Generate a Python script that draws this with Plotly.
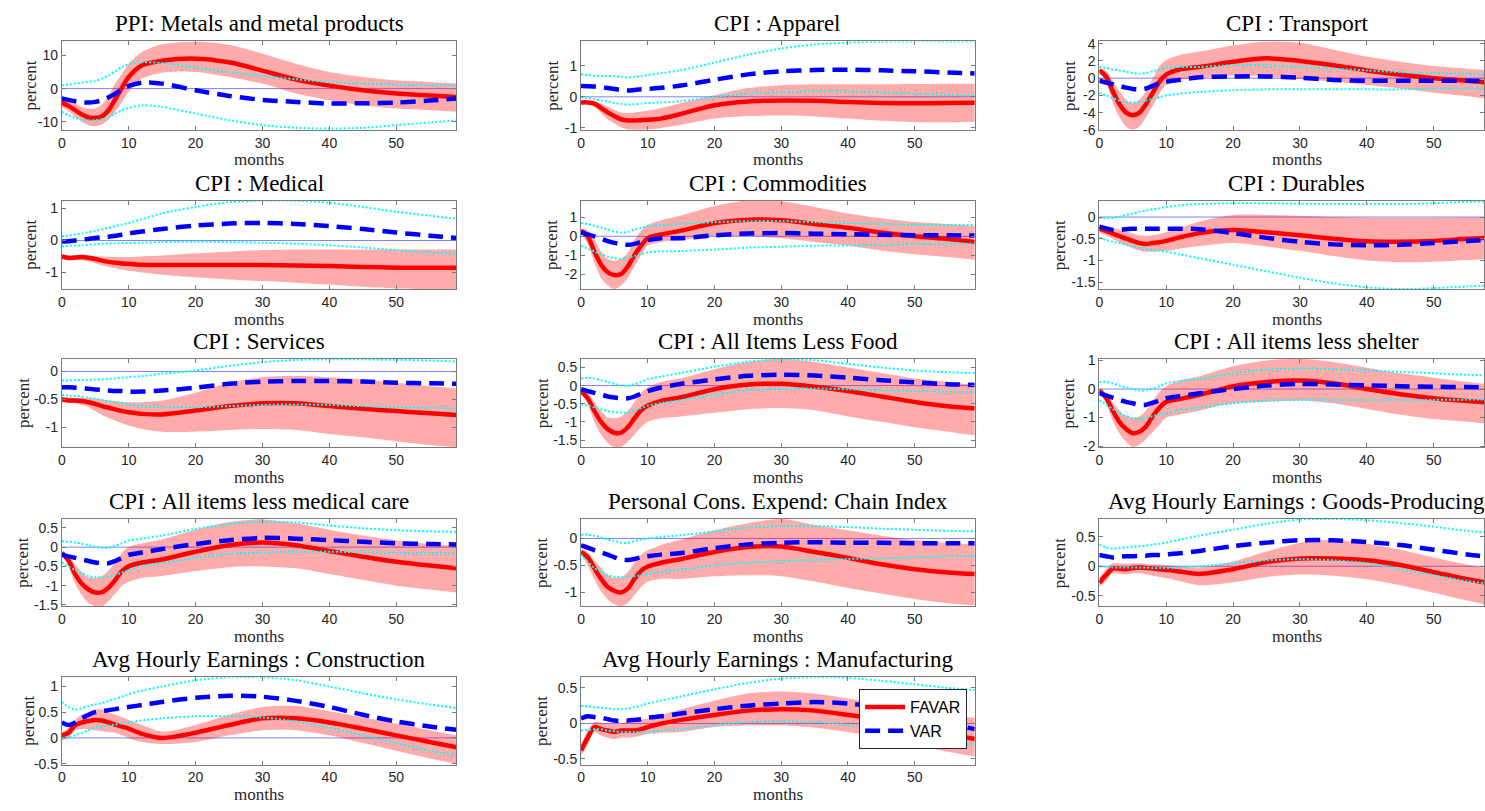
import plotly.graph_objects as go

MONTHS = [0, 1, 2, 3, 4, 5, 6, 7, 8, 9, 10, 12, 15, 20, 25, 30, 35, 40, 45, 50, 55, 59]

TITLES = [
    "PPI: Metals and metal products", "CPI : Apparel", "CPI : Transport",
    "CPI : Medical", "CPI : Commodities", "CPI : Durables",
    "CPI : Services", "CPI : All Items Less Food", "CPI : All items less shelter",
    "CPI : All items less medical care", "Personal Cons. Expend: Chain Index",
    "Avg Hourly Earnings : Goods-Producing",
    "Avg Hourly Earnings : Construction", "Avg Hourly Earnings : Manufacturing",
]

# ---- 1 PPI metals
PPI_FAVAR = [-4.2, -5.2, -6.5, -7.8, -8.7, -8.8, -8.3, -6.5, -3.2, 0.3, 3.5, 7.0, 8.4, 9.0, 7.9, 5.4, 2.7, 0.9, -0.5, -1.5, -2.1, -2.5]
PPI_HI = [-3.0, -3.5, -4.5, -5.5, -6.0, -6.0, -4.8, -2.0, 1.5, 4.5, 7.5, 11.0, 13.3, 14.2, 13.2, 10.5, 7.5, 5.0, 3.5, 2.5, 2.0, 1.5]
PPI_LO = [-5.5, -6.8, -8.5, -10.0, -11.0, -11.3, -10.8, -9.3, -7.0, -4.0, -1.0, 3.0, 4.8, 5.0, 3.5, 1.5, -1.5, -3.5, -5.0, -6.0, -6.5, -7.0]
PPI_VAR = [-3.0, -3.4, -3.8, -4.1, -4.2, -4.0, -3.5, -2.6, -1.5, -0.2, 0.8, 1.8, 1.5, -0.5, -2.2, -3.4, -4.0, -4.5, -4.4, -4.2, -3.6, -3.0]
PPI_VHI = [1.0, 1.2, 1.5, 1.8, 2.0, 2.3, 3.0, 4.0, 5.2, 6.5, 7.3, 7.9, 7.7, 6.3, 5.0, 3.8, 2.8, 2.0, 1.5, 1.2, 1.0, 1.0]
PPI_VLO = [-7.0, -8.0, -8.8, -9.3, -9.5, -9.5, -9.2, -8.5, -7.5, -6.5, -5.8, -5.0, -5.5, -7.5, -9.5, -11.0, -11.8, -12.0, -11.8, -11.0, -10.2, -9.6]

# ---- 2 Apparel
APP_FAVAR = [-0.18, -0.18, -0.22, -0.36, -0.5, -0.62, -0.72, -0.76, -0.76, -0.75, -0.74, -0.7, -0.55, -0.27, -0.15, -0.12, -0.13, -0.17, -0.2, -0.21, -0.2, -0.19]
APP_HI = [-0.12, -0.12, -0.14, -0.22, -0.32, -0.42, -0.5, -0.52, -0.5, -0.48, -0.45, -0.36, -0.2, 0.05, 0.28, 0.37, 0.4, 0.4, 0.4, 0.41, 0.42, 0.42]
APP_LO = [-0.25, -0.25, -0.32, -0.52, -0.72, -0.85, -0.98, -1.05, -1.06, -1.06, -1.05, -1.0, -0.9, -0.7, -0.62, -0.6, -0.63, -0.7, -0.77, -0.81, -0.82, -0.8]
APP_VAR = [0.35, 0.34, 0.33, 0.31, 0.28, 0.25, 0.22, 0.2, 0.22, 0.24, 0.25, 0.29, 0.36, 0.55, 0.72, 0.82, 0.86, 0.87, 0.85, 0.82, 0.78, 0.75]
APP_VHI = [0.73, 0.7, 0.68, 0.67, 0.67, 0.66, 0.64, 0.62, 0.64, 0.67, 0.7, 0.76, 0.86, 1.1, 1.35, 1.55, 1.68, 1.74, 1.77, 1.78, 1.78, 1.78]
APP_VLO = [-0.02, -0.04, -0.08, -0.12, -0.15, -0.2, -0.23, -0.25, -0.24, -0.22, -0.2, -0.18, -0.14, 0.0, 0.1, 0.15, 0.18, 0.17, 0.14, 0.1, 0.06, 0.04]

# ---- 3 Transport
TRN_FAVAR = [0.9, 0.2, -1.5, -3.0, -4.0, -4.3, -4.0, -3.0, -1.7, -0.4, 0.4, 1.0, 1.3, 1.9, 2.3, 2.0, 1.5, 0.9, 0.4, 0.0, -0.3, -0.6]
TRN_HI = [1.1, 0.9, -0.3, -1.5, -2.5, -2.9, -2.5, -1.5, 0.0, 1.4, 2.1, 2.7, 3.1, 3.8, 4.27, 4.1, 3.3, 2.5, 1.9, 1.4, 1.1, 0.9]
TRN_LO = [0.7, -0.4, -2.8, -4.5, -5.6, -6.0, -5.6, -4.5, -3.2, -1.8, -0.8, -0.2, 0.0, 0.3, 0.2, -0.1, -0.4, -0.8, -1.2, -1.7, -2.1, -2.5]
TRN_VAR = [-0.3, -0.5, -0.7, -0.9, -1.1, -1.25, -1.3, -1.2, -0.9, -0.6, -0.4, -0.2, 0.1, 0.2, 0.2, 0.05, -0.2, -0.3, -0.3, -0.3, -0.3, -0.3]
TRN_VHI = [1.3, 1.2, 1.0, 0.9, 0.75, 0.6, 0.5, 0.6, 0.8, 1.0, 1.2, 1.3, 1.3, 1.5, 1.5, 1.3, 1.1, 0.9, 0.7, 0.6, 0.5, 0.5]
TRN_VLO = [-1.7, -2.0, -2.3, -2.6, -2.8, -2.85, -2.8, -2.6, -2.4, -2.2, -2.0, -1.8, -1.6, -1.4, -1.3, -1.3, -1.3, -1.3, -1.3, -1.2, -1.2, -1.2]

# ---- 4 Medical
MED_FAVAR = [-0.5, -0.55, -0.53, -0.52, -0.54, -0.58, -0.63, -0.67, -0.7, -0.72, -0.73, -0.76, -0.77, -0.77, -0.77, -0.77, -0.78, -0.8, -0.83, -0.85, -0.85, -0.85]
MED_HI = [-0.45, -0.47, -0.47, -0.46, -0.47, -0.49, -0.5, -0.51, -0.52, -0.52, -0.52, -0.5, -0.47, -0.4, -0.35, -0.3, -0.28, -0.28, -0.28, -0.28, -0.28, -0.28]
MED_LO = [-0.55, -0.58, -0.6, -0.62, -0.65, -0.71, -0.78, -0.83, -0.87, -0.91, -0.95, -1.0, -1.07, -1.15, -1.22, -1.27, -1.32, -1.38, -1.45, -1.5, -1.52, -1.52]
MED_VAR = [-0.03, -0.02, 0.0, 0.02, 0.05, 0.08, 0.1, 0.12, 0.15, 0.18, 0.22, 0.28, 0.36, 0.47, 0.53, 0.55, 0.52, 0.45, 0.36, 0.25, 0.15, 0.08]
MED_VHI = [0.13, 0.16, 0.19, 0.22, 0.26, 0.3, 0.35, 0.4, 0.45, 0.5, 0.55, 0.67, 0.85, 1.05, 1.2, 1.25, 1.25, 1.18, 1.05, 0.9, 0.78, 0.68]
MED_VLO = [-0.18, -0.17, -0.16, -0.15, -0.13, -0.12, -0.1, -0.09, -0.09, -0.08, -0.08, -0.07, -0.05, -0.04, -0.05, -0.07, -0.1, -0.15, -0.22, -0.3, -0.37, -0.42]

# ---- 5 Commodities
COM_FAVAR = [0.3, 0.0, -0.8, -1.5, -1.9, -2.05, -2.0, -1.6, -1.0, -0.5, -0.1, 0.1, 0.3, 0.7, 0.88, 0.85, 0.65, 0.45, 0.2, 0.0, -0.15, -0.3]
COM_HI = [0.4, 0.3, -0.2, -0.8, -1.2, -1.3, -1.2, -0.9, -0.2, 0.3, 0.6, 0.85, 1.1, 1.6, 1.89, 1.85, 1.55, 1.2, 0.95, 0.75, 0.65, 0.55]
COM_LO = [0.15, -0.4, -1.4, -2.2, -2.6, -2.79, -2.6, -2.2, -1.6, -1.0, -0.5, -0.3, -0.2, 0.0, 0.0, -0.1, -0.3, -0.5, -0.75, -0.95, -1.1, -1.25]
COM_VAR = [0.2, 0.1, 0.0, -0.12, -0.25, -0.35, -0.42, -0.45, -0.4, -0.3, -0.2, -0.1, -0.1, 0.05, 0.15, 0.17, 0.14, 0.11, 0.08, 0.06, 0.05, 0.04]
COM_VHI = [0.7, 0.65, 0.55, 0.45, 0.35, 0.25, 0.2, 0.22, 0.35, 0.45, 0.55, 0.6, 0.65, 0.75, 0.8, 0.8, 0.75, 0.7, 0.65, 0.6, 0.6, 0.6]
COM_VLO = [-0.5, -0.65, -0.8, -0.95, -1.08, -1.15, -1.2, -1.15, -1.05, -0.95, -0.85, -0.8, -0.78, -0.7, -0.6, -0.55, -0.5, -0.48, -0.45, -0.42, -0.4, -0.4]

# ---- 6 Durables
DUR_FAVAR = [-0.27, -0.32, -0.38, -0.44, -0.5, -0.55, -0.6, -0.62, -0.6, -0.58, -0.55, -0.47, -0.37, -0.3, -0.35, -0.42, -0.5, -0.56, -0.57, -0.55, -0.5, -0.47]
DUR_HI = [-0.2, -0.22, -0.25, -0.29, -0.33, -0.38, -0.42, -0.43, -0.42, -0.39, -0.35, -0.25, -0.1, 0.05, 0.05, 0.03, 0.0, -0.02, -0.02, -0.02, -0.01, 0.0]
DUR_LO = [-0.35, -0.42, -0.5, -0.58, -0.65, -0.72, -0.78, -0.8, -0.8, -0.79, -0.78, -0.73, -0.67, -0.6, -0.68, -0.78, -0.9, -1.0, -1.04, -1.03, -0.99, -0.96]
DUR_VAR = [-0.22, -0.26, -0.3, -0.29, -0.28, -0.27, -0.27, -0.27, -0.27, -0.27, -0.27, -0.27, -0.28, -0.37, -0.48, -0.57, -0.63, -0.65, -0.64, -0.6, -0.55, -0.52]
DUR_VHI = [-0.02, -0.03, -0.02, 0.01, 0.05, 0.08, 0.12, 0.15, 0.18, 0.2, 0.23, 0.27, 0.3, 0.32, 0.32, 0.31, 0.3, 0.3, 0.3, 0.32, 0.35, 0.37]
DUR_VLO = [-0.48, -0.53, -0.57, -0.6, -0.64, -0.67, -0.7, -0.73, -0.76, -0.78, -0.8, -0.86, -0.95, -1.1, -1.25, -1.4, -1.53, -1.62, -1.66, -1.64, -1.6, -1.57]

# ---- 7 Services
SRV_FAVAR = [-0.5, -0.52, -0.52, -0.53, -0.55, -0.58, -0.62, -0.65, -0.68, -0.71, -0.73, -0.76, -0.77, -0.7, -0.62, -0.57, -0.57, -0.62, -0.67, -0.71, -0.75, -0.78]
SRV_HI = [-0.45, -0.46, -0.47, -0.47, -0.48, -0.49, -0.5, -0.52, -0.53, -0.54, -0.55, -0.55, -0.52, -0.38, -0.2, -0.1, -0.08, -0.1, -0.14, -0.2, -0.26, -0.3]
SRV_LO = [-0.55, -0.56, -0.57, -0.6, -0.64, -0.71, -0.78, -0.83, -0.88, -0.93, -0.97, -1.03, -1.08, -1.08, -1.05, -1.03, -1.05, -1.12, -1.18, -1.25, -1.32, -1.36]
SRV_VAR = [-0.28, -0.28, -0.29, -0.3, -0.31, -0.32, -0.33, -0.34, -0.35, -0.35, -0.36, -0.36, -0.34, -0.29, -0.22, -0.18, -0.17, -0.17, -0.18, -0.2, -0.21, -0.22]
SRV_VHI = [-0.16, -0.16, -0.15, -0.15, -0.15, -0.14, -0.14, -0.13, -0.12, -0.11, -0.1, -0.08, -0.04, 0.02, 0.1, 0.17, 0.21, 0.22, 0.22, 0.21, 0.2, 0.18]
SRV_VLO = [-0.42, -0.43, -0.44, -0.45, -0.47, -0.49, -0.51, -0.53, -0.55, -0.57, -0.59, -0.62, -0.64, -0.64, -0.62, -0.6, -0.59, -0.6, -0.62, -0.64, -0.65, -0.67]

# ---- 8 All items less food
LFD_FAVAR = [-0.15, -0.35, -0.7, -1.0, -1.2, -1.3, -1.3, -1.15, -0.9, -0.68, -0.55, -0.42, -0.32, -0.1, 0.03, 0.05, -0.03, -0.15, -0.3, -0.45, -0.57, -0.63]
LFD_HI = [-0.1, -0.2, -0.45, -0.7, -0.88, -0.9, -0.85, -0.7, -0.45, -0.2, -0.05, 0.1, 0.2, 0.45, 0.65, 0.74, 0.65, 0.5, 0.35, 0.2, 0.1, 0.02]
LFD_LO = [-0.2, -0.5, -1.0, -1.35, -1.58, -1.7, -1.7, -1.55, -1.35, -1.15, -1.0, -0.9, -0.85, -0.75, -0.65, -0.62, -0.68, -0.85, -1.0, -1.15, -1.27, -1.37]
LFD_VAR = [-0.1, -0.15, -0.2, -0.25, -0.3, -0.33, -0.35, -0.35, -0.3, -0.22, -0.15, -0.05, 0.05, 0.17, 0.27, 0.3, 0.28, 0.22, 0.15, 0.09, 0.04, 0.02]
LFD_VHI = [0.2, 0.22, 0.2, 0.15, 0.1, 0.05, 0.0, 0.0, 0.04, 0.1, 0.18, 0.25, 0.35, 0.52, 0.66, 0.72, 0.7, 0.6, 0.5, 0.42, 0.37, 0.35]
LFD_VLO = [-0.5, -0.55, -0.6, -0.65, -0.7, -0.73, -0.75, -0.73, -0.68, -0.62, -0.55, -0.48, -0.4, -0.25, -0.13, -0.09, -0.08, -0.1, -0.13, -0.15, -0.17, -0.18]

# ---- 9 All items less shelter
LSH_FAVAR = [-0.05, -0.3, -0.75, -1.15, -1.4, -1.55, -1.5, -1.3, -0.95, -0.65, -0.45, -0.35, -0.2, 0.1, 0.25, 0.3, 0.2, 0.0, -0.18, -0.32, -0.42, -0.48]
LSH_HI = [0.0, -0.15, -0.45, -0.75, -0.95, -1.0, -0.95, -0.75, -0.4, -0.1, 0.1, 0.3, 0.45, 0.8, 1.0, 1.06, 0.95, 0.75, 0.55, 0.4, 0.25, 0.15]
LSH_LO = [-0.1, -0.5, -1.1, -1.55, -1.85, -2.03, -1.95, -1.75, -1.5, -1.25, -1.0, -0.9, -0.75, -0.5, -0.45, -0.4, -0.5, -0.7, -0.9, -1.05, -1.15, -1.25]
LSH_VAR = [-0.15, -0.22, -0.3, -0.38, -0.45, -0.5, -0.55, -0.55, -0.48, -0.4, -0.32, -0.25, -0.15, 0.0, 0.12, 0.18, 0.16, 0.13, 0.1, 0.08, 0.07, 0.06]
LSH_VHI = [0.25, 0.25, 0.2, 0.12, 0.05, 0.0, -0.05, -0.05, 0.02, 0.1, 0.2, 0.28, 0.35, 0.55, 0.68, 0.72, 0.7, 0.65, 0.6, 0.55, 0.5, 0.48]
LSH_VLO = [-0.4, -0.55, -0.7, -0.85, -0.95, -1.02, -1.05, -1.02, -0.95, -0.9, -0.85, -0.75, -0.65, -0.5, -0.4, -0.38, -0.38, -0.38, -0.38, -0.38, -0.37, -0.37]

# ---- 10 All items less medical care
LMC_FAVAR = [-0.15, -0.35, -0.7, -0.95, -1.1, -1.18, -1.17, -1.05, -0.85, -0.62, -0.5, -0.4, -0.32, -0.12, 0.05, 0.12, 0.05, -0.1, -0.25, -0.38, -0.48, -0.55]
LMC_HI = [-0.1, -0.2, -0.45, -0.65, -0.78, -0.8, -0.75, -0.6, -0.4, -0.15, 0.0, 0.1, 0.2, 0.45, 0.65, 0.72, 0.62, 0.45, 0.3, 0.18, 0.08, 0.03]
LMC_LO = [-0.2, -0.5, -0.95, -1.25, -1.45, -1.54, -1.54, -1.4, -1.2, -1.0, -0.9, -0.8, -0.75, -0.62, -0.52, -0.5, -0.55, -0.7, -0.85, -1.0, -1.1, -1.18]
LMC_VAR = [-0.2, -0.24, -0.28, -0.32, -0.36, -0.4, -0.42, -0.42, -0.36, -0.28, -0.2, -0.14, -0.05, 0.08, 0.18, 0.24, 0.22, 0.18, 0.14, 0.1, 0.08, 0.07]
LMC_VHI = [0.15, 0.14, 0.12, 0.09, 0.05, 0.01, -0.02, -0.02, 0.04, 0.1, 0.17, 0.22, 0.3, 0.47, 0.6, 0.66, 0.64, 0.56, 0.49, 0.44, 0.41, 0.4]
LMC_VLO = [-0.4, -0.5, -0.6, -0.68, -0.75, -0.78, -0.78, -0.76, -0.72, -0.66, -0.6, -0.5, -0.42, -0.28, -0.18, -0.14, -0.12, -0.12, -0.13, -0.15, -0.16, -0.16]

# ---- 11 PCE chain index
PCE_FAVAR = [-0.25, -0.35, -0.55, -0.75, -0.9, -0.97, -1.0, -0.93, -0.75, -0.6, -0.52, -0.45, -0.38, -0.25, -0.16, -0.15, -0.25, -0.36, -0.48, -0.57, -0.63, -0.66]
PCE_HI = [-0.2, -0.25, -0.4, -0.55, -0.68, -0.73, -0.72, -0.62, -0.45, -0.3, -0.22, -0.12, -0.02, 0.15, 0.28, 0.36, 0.25, 0.15, 0.05, -0.03, -0.08, -0.11]
PCE_LO = [-0.3, -0.5, -0.75, -0.98, -1.13, -1.22, -1.26, -1.2, -1.05, -0.9, -0.8, -0.75, -0.75, -0.7, -0.68, -0.7, -0.8, -0.92, -1.02, -1.12, -1.2, -1.24]
PCE_VAR = [-0.13, -0.17, -0.22, -0.26, -0.3, -0.35, -0.39, -0.4, -0.38, -0.35, -0.33, -0.3, -0.27, -0.18, -0.11, -0.08, -0.07, -0.08, -0.08, -0.09, -0.09, -0.09]
PCE_VHI = [0.07, 0.07, 0.05, 0.02, -0.02, -0.05, -0.08, -0.08, -0.05, -0.02, 0.0, 0.03, 0.06, 0.13, 0.2, 0.23, 0.23, 0.21, 0.18, 0.16, 0.14, 0.13]
PCE_VLO = [-0.3, -0.43, -0.55, -0.62, -0.68, -0.71, -0.72, -0.71, -0.7, -0.68, -0.66, -0.62, -0.58, -0.5, -0.45, -0.42, -0.4, -0.38, -0.37, -0.35, -0.33, -0.32]

# ---- 12 AHE goods-producing
AGP_FAVAR = [-0.28, -0.15, -0.04, -0.04, -0.05, -0.03, -0.02, -0.03, -0.04, -0.05, -0.06, -0.09, -0.13, -0.05, 0.07, 0.13, 0.13, 0.1, 0.02, -0.1, -0.22, -0.3]
AGP_HI = [-0.2, -0.05, 0.05, 0.05, 0.04, 0.05, 0.05, 0.04, 0.03, 0.03, 0.02, 0.0, -0.02, 0.08, 0.25, 0.4, 0.45, 0.38, 0.28, 0.15, 0.03, -0.05]
AGP_LO = [-0.35, -0.25, -0.12, -0.13, -0.14, -0.12, -0.12, -0.14, -0.16, -0.18, -0.2, -0.25, -0.32, -0.27, -0.18, -0.14, -0.16, -0.22, -0.32, -0.45, -0.58, -0.68]
AGP_VAR = [0.19, 0.17, 0.15, 0.16, 0.17, 0.17, 0.18, 0.18, 0.19, 0.19, 0.2, 0.22, 0.26, 0.34, 0.4, 0.44, 0.44, 0.41, 0.36, 0.28, 0.2, 0.15]
AGP_VHI = [0.37, 0.32, 0.3, 0.31, 0.32, 0.33, 0.34, 0.35, 0.37, 0.38, 0.4, 0.45, 0.52, 0.62, 0.72, 0.79, 0.8, 0.78, 0.73, 0.67, 0.6, 0.56]
AGP_VLO = [0.0, -0.01, -0.02, -0.02, -0.02, -0.02, -0.02, -0.02, -0.03, -0.03, -0.03, -0.02, 0.0, 0.05, 0.1, 0.12, 0.1, 0.05, -0.05, -0.15, -0.25, -0.3]

# ---- 13 AHE construction
ACN_FAVAR = [0.05, 0.1, 0.25, 0.3, 0.33, 0.35, 0.34, 0.3, 0.26, 0.22, 0.18, 0.08, 0.0, 0.1, 0.25, 0.38, 0.38, 0.3, 0.18, 0.05, -0.08, -0.18]
ACN_HI = [0.1, 0.2, 0.35, 0.45, 0.5, 0.55, 0.55, 0.5, 0.45, 0.4, 0.35, 0.25, 0.12, 0.25, 0.45, 0.6, 0.62, 0.52, 0.4, 0.28, 0.15, 0.05]
ACN_LO = [-0.05, 0.0, 0.15, 0.17, 0.17, 0.15, 0.13, 0.11, 0.1, 0.05, 0.0, -0.08, -0.12, -0.08, 0.05, 0.15, 0.15, 0.05, -0.1, -0.25, -0.4, -0.5]
ACN_VAR = [0.3, 0.25, 0.3, 0.38, 0.45, 0.5, 0.52, 0.54, 0.56, 0.58, 0.6, 0.64, 0.7, 0.78, 0.82, 0.8, 0.72, 0.6, 0.45, 0.32, 0.22, 0.16]
ACN_VHI = [0.7, 0.6, 0.55, 0.58, 0.62, 0.65, 0.68, 0.72, 0.76, 0.8, 0.85, 0.92, 1.0, 1.12, 1.18, 1.18, 1.12, 1.0, 0.87, 0.75, 0.65, 0.58]
ACN_VLO = [0.0, 0.0, 0.05, 0.1, 0.15, 0.2, 0.22, 0.24, 0.26, 0.28, 0.3, 0.34, 0.38, 0.42, 0.42, 0.4, 0.32, 0.2, 0.05, -0.1, -0.25, -0.35]

# ---- 14 AHE manufacturing
AMF_FAVAR = [-0.38, -0.2, -0.05, -0.08, -0.1, -0.12, -0.1, -0.1, -0.1, -0.08, -0.05, 0.0, 0.05, 0.12, 0.18, 0.2, 0.18, 0.12, 0.05, -0.05, -0.15, -0.22]
AMF_HI = [-0.3, -0.1, 0.02, 0.01, 0.0, 0.0, 0.0, 0.02, 0.03, 0.05, 0.07, 0.12, 0.2, 0.32, 0.42, 0.45, 0.42, 0.35, 0.28, 0.2, 0.12, 0.08]
AMF_LO = [-0.45, -0.3, -0.12, -0.17, -0.2, -0.22, -0.2, -0.2, -0.19, -0.17, -0.15, -0.13, -0.12, -0.05, -0.03, -0.03, -0.06, -0.12, -0.2, -0.3, -0.4, -0.47]
AMF_VAR = [0.07, 0.1, 0.09, 0.08, 0.06, 0.04, 0.04, 0.04, 0.05, 0.06, 0.08, 0.1, 0.14, 0.2, 0.25, 0.28, 0.3, 0.28, 0.22, 0.12, 0.0, -0.08]
AMF_VHI = [0.25, 0.24, 0.23, 0.22, 0.21, 0.2, 0.2, 0.21, 0.23, 0.25, 0.28, 0.32, 0.38, 0.48, 0.57, 0.63, 0.65, 0.64, 0.6, 0.55, 0.5, 0.47]
AMF_VLO = [-0.1, -0.09, -0.08, -0.08, -0.1, -0.11, -0.12, -0.12, -0.12, -0.12, -0.12, -0.1, -0.08, -0.02, 0.02, 0.03, 0.02, -0.02, -0.08, -0.15, -0.25, -0.3]

PANELS = [
    (PPI_FAVAR, PPI_LO, PPI_HI, PPI_VAR, PPI_VLO, PPI_VHI),
    (APP_FAVAR, APP_LO, APP_HI, APP_VAR, APP_VLO, APP_VHI),
    (TRN_FAVAR, TRN_LO, TRN_HI, TRN_VAR, TRN_VLO, TRN_VHI),
    (MED_FAVAR, MED_LO, MED_HI, MED_VAR, MED_VLO, MED_VHI),
    (COM_FAVAR, COM_LO, COM_HI, COM_VAR, COM_VLO, COM_VHI),
    (DUR_FAVAR, DUR_LO, DUR_HI, DUR_VAR, DUR_VLO, DUR_VHI),
    (SRV_FAVAR, SRV_LO, SRV_HI, SRV_VAR, SRV_VLO, SRV_VHI),
    (LFD_FAVAR, LFD_LO, LFD_HI, LFD_VAR, LFD_VLO, LFD_VHI),
    (LSH_FAVAR, LSH_LO, LSH_HI, LSH_VAR, LSH_VLO, LSH_VHI),
    (LMC_FAVAR, LMC_LO, LMC_HI, LMC_VAR, LMC_VLO, LMC_VHI),
    (PCE_FAVAR, PCE_LO, PCE_HI, PCE_VAR, PCE_VLO, PCE_VHI),
    (AGP_FAVAR, AGP_LO, AGP_HI, AGP_VAR, AGP_VLO, AGP_VHI),
    (ACN_FAVAR, ACN_LO, ACN_HI, ACN_VAR, ACN_VLO, ACN_VHI),
    (AMF_FAVAR, AMF_LO, AMF_HI, AMF_VAR, AMF_VLO, AMF_VHI),
]

Y_RANGES = [
    [-12.4, 14.2], [-1.06, 1.78], [-6.0, 4.27], [-1.52, 1.25], [-2.79, 1.89],
    [-1.66, 0.38], [-1.36, 0.23], [-1.70, 0.74], [-2.04, 1.06], [-1.54, 0.73],
    [-1.26, 0.36], [-0.68, 0.80], [-0.52, 1.18], [-0.58, 0.65],
]
Y_TICKS = [
    [-10, 0, 10], [-1, 0, 1], [-6, -4, -2, 0, 2, 4], [-1, 0, 1], [-2, -1, 0, 1],
    [-1.5, -1, -0.5, 0], [-1, -0.5, 0], [-1.5, -1, -0.5, 0, 0.5], [-2, -1, 0, 1],
    [-1.5, -1, -0.5, 0, 0.5], [-1, -0.5, 0], [-0.5, 0, 0.5], [-0.5, 0, 0.5, 1],
    [-0.5, 0, 0.5],
]
X_TICKS = [0, 10, 20, 30, 40, 50]

# ---------------- layout geometry (pixels) ----------------
W, H = 1485, 811
COLS = [(58, 454), (579, 974), (1099, 1485)]
ROWS = [(36, 126), (198, 288), (359, 449), (522, 611), (683, 772)]
PX_PER_MONTH = (454 - 58) / 59.0
YLABEL_OFF = [31, 29, 30, 31, 29, 40, 39, 39, 31, 39, 39, 40, 33, 39]

RED = "#ff0000"
BAND = "rgba(255,0,0,0.33)"
BLUE = "#0000ff"
CYAN = "#00ffff"
ZERO = "#8080ff"
AX = "#7a7a7a"
TICKC = "#262626"
SERIF = "Liberation Serif, Times New Roman, serif"
SANS = "Liberation Sans, Arial, sans-serif"

fig = go.Figure()
annotations = []
shapes = []
layout = {}

for i, (fav, lo, hi, var, vlo, vhi) in enumerate(PANELS):
    r, c = divmod(i, 3)
    k = i + 1
    xa = "x" if k == 1 else "x%d" % k
    ya = "y" if k == 1 else "y%d" % k
    x0, x1 = COLS[c]
    top, bot = ROWS[r]
    xmax = 59 if c < 2 else (x1 - x0) / PX_PER_MONTH

    common = dict(showline=True, linecolor=AX, linewidth=1, mirror="ticks",
                  ticks="inside", ticklen=4, tickcolor=AX, tickwidth=1,
                  showgrid=False, zeroline=False,
                  tickfont=dict(family=SANS, size=14, color=TICKC))
    layout["xaxis" if k == 1 else "xaxis%d" % k] = dict(
        domain=[x0 / W, x1 / W], range=[0, xmax], anchor=ya,
        tickvals=X_TICKS, ticktext=[str(v) for v in X_TICKS], **common)
    layout["yaxis" if k == 1 else "yaxis%d" % k] = dict(
        domain=[1 - bot / H, 1 - top / H], range=Y_RANGES[i], anchor=xa,
        tickvals=Y_TICKS[i], ticktext=["%g" % v for v in Y_TICKS[i]], **common)

    shapes.append(dict(type="line", xref=xa, yref=ya, x0=0, x1=xmax, y0=0, y1=0,
                       line=dict(color=ZERO, width=1), layer="below"))

    sp = dict(shape="spline", smoothing=0.8)
    fig.add_trace(go.Scatter(x=MONTHS, y=lo, xaxis=xa, yaxis=ya, mode="lines",
                             line=dict(width=0, **sp), showlegend=False, hoverinfo="skip"))
    fig.add_trace(go.Scatter(x=MONTHS, y=hi, xaxis=xa, yaxis=ya, mode="lines",
                             line=dict(width=0, **sp), fill="tonexty", fillcolor=BAND,
                             showlegend=False, hoverinfo="skip"))
    fig.add_trace(go.Scatter(x=MONTHS, y=fav, xaxis=xa, yaxis=ya, mode="lines",
                             line=dict(color=RED, width=4.5, **sp), name="FAVAR",
                             showlegend=(i == 0)))
    fig.add_trace(go.Scatter(x=MONTHS, y=var, xaxis=xa, yaxis=ya, mode="lines",
                             line=dict(color=BLUE, width=4.5, dash="15px,8px", **sp), name="VAR",
                             showlegend=(i == 0)))
    for band in (vhi, vlo):
        fig.add_trace(go.Scatter(x=MONTHS, y=band, xaxis=xa, yaxis=ya, mode="lines",
                                 line=dict(color=CYAN, width=2, dash="2px,2px", **sp),
                                 showlegend=False, hoverinfo="skip"))

    xc = (x0 + x1) / 2.0 if c < 2 else (x0 + x0 + 59 * PX_PER_MONTH) / 2.0
    annotations.append(dict(text=TITLES[i], xref="paper", yref="paper",
                            x=xc / W, y=1 - (top - 3) / H, xanchor="center", yanchor="bottom",
                            showarrow=False,
                            font=dict(family=SERIF, size=23, color="#000000")))
    annotations.append(dict(text="months", xref="paper", yref="paper",
                            x=xc / W, y=1 - (bot + 19) / H, xanchor="center", yanchor="top",
                            showarrow=False,
                            font=dict(family=SERIF, size=17, color="#262626")))
    annotations.append(dict(text="percent", xref="paper", yref="paper", textangle=-90,
                            x=(x0 - YLABEL_OFF[i]) / W, y=1 - (top + bot) / 2.0 / H,
                            xanchor="center", yanchor="middle", showarrow=False,
                            font=dict(family=SERIF, size=17, color="#262626")))

fig.update_layout(
    width=W, height=H, margin=dict(l=0, r=0, t=0, b=0),
    paper_bgcolor="white", plot_bgcolor="white",
    annotations=annotations, shapes=shapes,
    legend=dict(x=858 / W, y=1 - 695 / H, xanchor="left", yanchor="top",
                traceorder="normal",
                bgcolor="white", bordercolor="#262626", borderwidth=1,
                font=dict(family=SANS, size=16, color="#000000"),
                itemwidth=40, tracegroupgap=0),
    **layout,
)

fig.write_html("out.html")
